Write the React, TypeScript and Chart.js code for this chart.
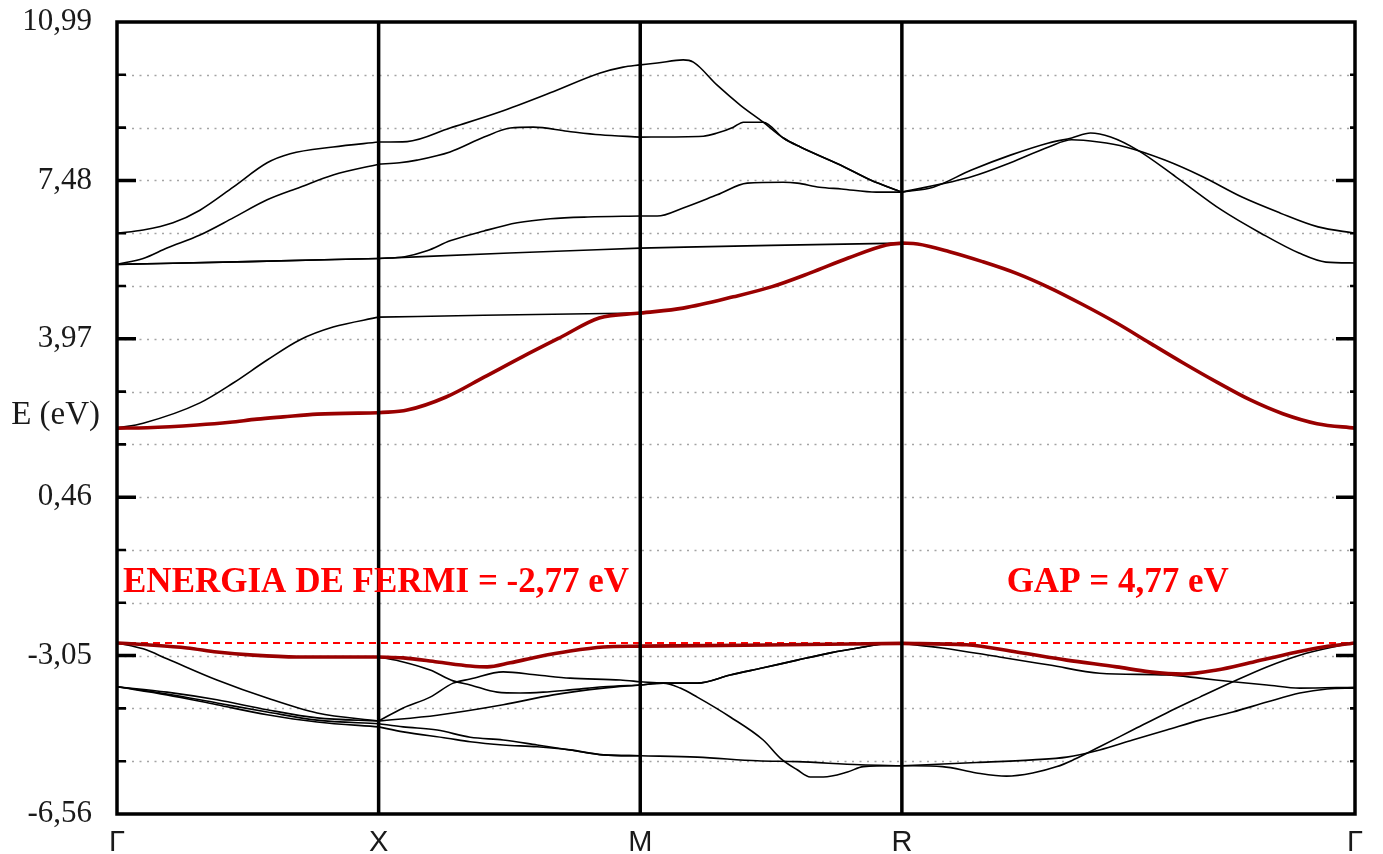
import React, { useEffect, useRef } from 'react';
import { Chart, registerables } from 'chart.js';

Chart.register(...registerables);

// ---- k-path (high-symmetry points) ----
const K_POINTS = [0, 1, 2, 3, 4.732];
const K_LABELS = ['Γ', 'X', 'M', 'R', 'Γ'];

// ---- energy axis ----
const E_MIN = -6.56;
const E_MAX = 10.99;
const E_GRID = [-6.56, -5.39, -4.22, -3.05, -1.88, -0.71, 0.46, 1.63, 2.8, 3.97, 5.14, 6.31, 7.48, 8.65, 9.82, 10.99];
const E_FERMI = -2.77;

// ---- texts ----
const Y_TITLE = 'E (eV)';
const FERMI_LABEL = 'ENERGIA DE FERMI = -2,77 eV';
const GAP_LABEL = 'GAP = 4,77 eV';
const Y_TITLE_E = 2.28;
const LABEL_E = -1.43;
const FERMI_LABEL_K = 0.023;
const GAP_LABEL_K = 3.825;

type Pt = [number, number];

// ---- conduction bands ----
const CB_RED: Pt[] = [
  [0, 1.99], [0.115, 2.0], [0.306, 2.06], [0.432, 2.12], [0.535, 2.19], [0.635, 2.24], [0.765, 2.3], [1, 2.33],
  [1.109, 2.39], [1.258, 2.68], [1.403, 3.12], [1.549, 3.57], [1.698, 4.01], [1.843, 4.43], [2, 4.54],
  [2.164, 4.65], [2.356, 4.9], [2.501, 5.12], [2.65, 5.43], [2.795, 5.76], [2.941, 6.05], [3, 6.09],
  [3.06, 6.07], [3.182, 5.9], [3.308, 5.68], [3.438, 5.42], [3.565, 5.1], [3.691, 4.73], [3.821, 4.32],
  [3.947, 3.88], [4.074, 3.44], [4.204, 3.01], [4.33, 2.62], [4.456, 2.31], [4.587, 2.09], [4.732, 1.99],
];
const CB_D: Pt[] = [
  [0, 1.99], [0.1, 2.1], [0.317, 2.55], [0.444, 2.99], [0.574, 3.5], [0.7, 3.95], [0.826, 4.23], [1, 4.45],
  [1.3, 4.48], [1.6, 4.51], [2, 4.54],
  [2.164, 4.65], [2.356, 4.9], [2.501, 5.12], [2.65, 5.43], [2.795, 5.76], [2.941, 6.05], [3, 6.09],
  [3.06, 6.07], [3.182, 5.9], [3.308, 5.68], [3.438, 5.42], [3.565, 5.1], [3.691, 4.73], [3.821, 4.32],
  [3.947, 3.88], [4.074, 3.44], [4.204, 3.01], [4.33, 2.62], [4.456, 2.31], [4.587, 2.09], [4.732, 1.99],
];
const CB_C: Pt[] = [
  [0, 5.62], [0.5, 5.68], [1, 5.75], [1.5, 5.87], [2, 5.98], [2.5, 6.04], [3, 6.09],
];
const CB_E: Pt[] = [
  [0, 5.62], [0.5, 5.68], [1, 5.75],
  [1.1, 5.79], [1.185, 5.92], [1.273, 6.14], [1.403, 6.36], [1.53, 6.54], [1.656, 6.63], [1.8, 6.67], [2, 6.69],
  [2.065, 6.69], [2.164, 6.87], [2.294, 7.16], [2.409, 7.42], [2.547, 7.44], [2.6, 7.42], [2.685, 7.33],
  [2.769, 7.29], [2.902, 7.22], [3, 7.22],
];
const CB_B: Pt[] = [
  [0, 5.62], [0.1, 5.75], [0.191, 5.98], [0.317, 6.27], [0.444, 6.65], [0.574, 7.05], [0.7, 7.33], [0.826, 7.6], [1, 7.84],
  [1.08, 7.87], [1.147, 7.93], [1.273, 8.11], [1.403, 8.44], [1.503, 8.64], [1.591, 8.66], [1.721, 8.57], [1.847, 8.49], [2, 8.44],
  [2.241, 8.46], [2.294, 8.53], [2.356, 8.66], [2.394, 8.77], [2.47, 8.77], [2.547, 8.42], [2.612, 8.22],
  [2.765, 7.82], [2.88, 7.49], [3, 7.22],
  [3.12, 7.33], [3.266, 7.71], [3.415, 8.04], [3.561, 8.31], [3.649, 8.42], [3.721, 8.53], [3.798, 8.44],
  [3.901, 8.15], [4.047, 7.56], [4.223, 6.82], [4.372, 6.31], [4.518, 5.87], [4.621, 5.67], [4.732, 5.65],
];
const CB_A: Pt[] = [
  [0, 6.31], [0.1, 6.38], [0.214, 6.54], [0.317, 6.82], [0.444, 7.33], [0.574, 7.87], [0.662, 8.07], [0.826, 8.22], [1, 8.33],
  [1.109, 8.34], [1.273, 8.64], [1.465, 9.0], [1.656, 9.42], [1.847, 9.86], [1.935, 9.99], [2, 10.04],
  [2.065, 10.08], [2.164, 10.15], [2.203, 10.1], [2.294, 9.59], [2.382, 9.15], [2.47, 8.77], [2.547, 8.42],
  [2.612, 8.22], [2.765, 7.82], [2.88, 7.49], [3, 7.22],
  [3.266, 7.56], [3.415, 7.87], [3.561, 8.22], [3.649, 8.38], [3.752, 8.33], [3.855, 8.22], [4.005, 7.93],
  [4.15, 7.56], [4.3, 7.11], [4.445, 6.76], [4.591, 6.45], [4.732, 6.31],
];

// ---- valence bands ----
const VB_RED: Pt[] = [
  [0, -2.77], [0.115, -2.81], [0.268, -2.88], [0.382, -2.97], [0.521, -3.04], [0.688, -3.08], [1, -3.08],
  [1.094, -3.1], [1.224, -3.19], [1.35, -3.28], [1.415, -3.3], [1.503, -3.21], [1.606, -3.08], [1.732, -2.95],
  [1.859, -2.86], [2, -2.84],
  [2.4, -2.82], [3, -2.78],
  [3.247, -2.81], [3.438, -2.97], [3.63, -3.15], [3.821, -3.3], [3.947, -3.41], [4.074, -3.46], [4.204, -3.37],
  [4.33, -3.21], [4.456, -3.04], [4.587, -2.88], [4.732, -2.77],
];
const VB_2: Pt[] = [
  [0, -2.77], [0.1, -2.9], [0.191, -3.12], [0.382, -3.59], [0.574, -3.99], [0.765, -4.32], [1, -4.5],
  [1.094, -4.21], [1.197, -3.97], [1.285, -3.66], [1.35, -3.57], [1.476, -3.41], [1.606, -3.48], [1.732, -3.55],
  [1.924, -3.59], [2, -3.63],
  [2.088, -3.66], [2.218, -3.66], [2.344, -3.48], [2.47, -3.32], [2.6, -3.15], [2.727, -2.99], [2.853, -2.86],
  [2.92, -2.8], [3, -2.78],
  [3.155, -2.88], [3.373, -3.08], [3.565, -3.26], [3.756, -3.44], [4.012, -3.48], [4.139, -3.55], [4.265, -3.63],
  [4.395, -3.7], [4.521, -3.77], [4.732, -3.75],
];
const VB_3: Pt[] = [
  [0, -2.77], [0.115, -2.81], [0.268, -2.88], [0.382, -2.97], [0.521, -3.04], [0.688, -3.08], [1, -3.08],
  [1.094, -3.19], [1.197, -3.37], [1.285, -3.61], [1.35, -3.7], [1.453, -3.86], [1.541, -3.88], [1.629, -3.86],
  [1.732, -3.81], [1.859, -3.74], [2, -3.7],
  [2.088, -3.66], [2.153, -3.77], [2.218, -3.97], [2.344, -4.41], [2.47, -4.92], [2.535, -5.32], [2.6, -5.58],
  [2.65, -5.74], [2.7, -5.74], [2.792, -5.63], [2.853, -5.51], [3, -5.49],
  [3.155, -5.51], [3.285, -5.65], [3.4, -5.72], [3.5, -5.65], [3.593, -5.51], [3.655, -5.36], [3.756, -5.07],
  [3.882, -4.7], [4.012, -4.32], [4.139, -3.97], [4.265, -3.63], [4.395, -3.3], [4.521, -3.04], [4.648, -2.86],
  [4.732, -2.77],
];
const VB_4: Pt[] = [
  [0, -3.74], [0.191, -3.86], [0.382, -4.03], [0.574, -4.25], [0.765, -4.43], [1, -4.5],
  [1.224, -4.37], [1.476, -4.14], [1.667, -3.92], [1.859, -3.77], [2, -3.7],
  [2.088, -3.66], [2.218, -3.66], [2.344, -3.48], [2.47, -3.32], [2.6, -3.15], [2.727, -2.99], [2.853, -2.86],
  [2.92, -2.8], [3, -2.78],
];
const VB_5: Pt[] = [
  [0, -3.74], [0.191, -3.9], [0.382, -4.1], [0.574, -4.3], [0.765, -4.48], [1, -4.56],
  [1.094, -4.63], [1.224, -4.7], [1.35, -4.86], [1.476, -4.92], [1.606, -5.03], [1.732, -5.14], [1.859, -5.25], [2, -5.27],
  [2.218, -5.3], [2.447, -5.38], [2.6, -5.4], [2.841, -5.47], [3, -5.49],
  [3.285, -5.42], [3.5, -5.36], [3.63, -5.3], [3.756, -5.14], [3.882, -4.92], [4.012, -4.7], [4.139, -4.48],
  [4.265, -4.3], [4.395, -4.08], [4.521, -3.88], [4.625, -3.79], [4.732, -3.77],
];
const VB_6: Pt[] = [
  [0, -3.74], [0.191, -3.92], [0.382, -4.14], [0.574, -4.36], [0.765, -4.52], [1, -4.63],
  [1.094, -4.74], [1.262, -4.88], [1.35, -4.96], [1.476, -5.03], [1.606, -5.07], [1.732, -5.14], [1.859, -5.25], [2, -5.27],
];

const BLACK_BANDS = [CB_D, CB_C, CB_E, CB_B, CB_A, VB_2, VB_3, VB_4, VB_5, VB_6];
const RED_BANDS = [CB_RED, VB_RED];

function splitSegments(band: Pt[]) {
  const segs: { x: number; y: number }[][] = [];
  for (let i = 0; i < K_POINTS.length - 1; i++) {
    const a = K_POINTS[i];
    const b = K_POINTS[i + 1];
    const pts = band
      .filter(([k]) => k >= a - 1e-6 && k <= b + 1e-6)
      .map(([x, y]) => ({ x, y }));
    if (pts.length > 1) segs.push(pts);
  }
  return segs;
}

function buildDatasets() {
  const ds: any[] = [];
  const base = {
    showLine: true,
    pointRadius: 0,
    pointHoverRadius: 0,
    tension: 0.4,
    cubicInterpolationMode: 'monotone',
    fill: false,
  };
  BLACK_BANDS.forEach((band) => {
    splitSegments(band).forEach((seg) => {
      ds.push({ ...base, data: seg, borderColor: '#000000', borderWidth: 1.6, order: 2 });
    });
  });
  ds.push({
    ...base,
    tension: 0,
    cubicInterpolationMode: 'default',
    data: [
      { x: K_POINTS[0], y: E_FERMI },
      { x: K_POINTS[K_POINTS.length - 1], y: E_FERMI },
    ],
    borderColor: '#ff0000',
    borderWidth: 2,
    borderDash: [7, 5],
    order: 1,
  });
  RED_BANDS.forEach((band) => {
    splitSegments(band).forEach((seg) => {
      ds.push({ ...base, data: seg, borderColor: '#990000', borderWidth: 3.6, order: 0 });
    });
  });
  return ds;
}

const bandFramePlugin = {
  id: 'bandFrame',
  beforeDatasetsDraw(chart: any) {
    const { ctx, chartArea: a, scales } = chart;
    const ys = scales.y;
    ctx.save();
    ctx.strokeStyle = '#a4a4a4';
    ctx.lineWidth = 1.5;
    ctx.setLineDash([2, 5.5]);
    E_GRID.forEach((v, i) => {
      if (i === 0 || i === E_GRID.length - 1) return;
      const y = Math.round(ys.getPixelForValue(v)) + 0.5;
      ctx.beginPath();
      ctx.moveTo(a.left, y);
      ctx.lineTo(a.right, y);
      ctx.stroke();
    });
    ctx.restore();
  },
  afterDatasetsDraw(chart: any) {
    const { ctx, chartArea: a, scales } = chart;
    const xs = scales.x;
    const ys = scales.y;
    ctx.save();
    ctx.setLineDash([]);
    ctx.strokeStyle = '#000000';
    ctx.lineWidth = 3.5;
    K_POINTS.forEach((k, i) => {
      if (i === 0 || i === K_POINTS.length - 1) return;
      const x = xs.getPixelForValue(k);
      ctx.beginPath();
      ctx.moveTo(x, a.top);
      ctx.lineTo(x, a.bottom);
      ctx.stroke();
    });
    ctx.lineWidth = 3.5;
    ctx.strokeRect(a.left, a.top, a.right - a.left, a.bottom - a.top);
    E_GRID.forEach((v, i) => {
      if (i === 0 || i === E_GRID.length - 1) return;
      const y = ys.getPixelForValue(v);
      const major = i % 3 === 0;
      ctx.lineWidth = major ? 3.5 : 2.6;
      const lenL = major ? 19 : 9;
      const lenR = major ? 19 : 5;
      ctx.beginPath();
      ctx.moveTo(a.left, y);
      ctx.lineTo(a.left + lenL, y);
      ctx.moveTo(a.right, y);
      ctx.lineTo(a.right - lenR, y);
      ctx.stroke();
    });
    ctx.fillStyle = '#1a1a1a';
    ctx.font = '33px "Liberation Serif", "Times New Roman", serif';
    ctx.textAlign = 'right';
    ctx.textBaseline = 'middle';
    ctx.fillText(Y_TITLE, a.left - 17, ys.getPixelForValue(Y_TITLE_E));
    ctx.fillStyle = '#ff0000';
    ctx.font = 'bold 35px "Liberation Serif", "Times New Roman", serif';
    ctx.textAlign = 'left';
    ctx.fillText(FERMI_LABEL, xs.getPixelForValue(FERMI_LABEL_K), ys.getPixelForValue(LABEL_E));
    ctx.textAlign = 'center';
    ctx.fillText(GAP_LABEL, xs.getPixelForValue(GAP_LABEL_K), ys.getPixelForValue(LABEL_E));
    ctx.restore();
  },
};

export default function App() {
  const canvasRef = useRef<HTMLCanvasElement | null>(null);

  useEffect(() => {
    if (!canvasRef.current) return;
    const chart = new Chart(canvasRef.current, {
      type: 'scatter',
      data: { datasets: buildDatasets() },
      options: {
        animation: false,
        responsive: false,
        devicePixelRatio: 1,
        events: [],
        layout: { padding: { left: 0, top: 22, right: 28, bottom: 0 } },
        plugins: {
          legend: { display: false },
          tooltip: { enabled: false },
        },
        scales: {
          x: {
            type: 'linear',
            min: K_POINTS[0],
            max: K_POINTS[K_POINTS.length - 1],
            grid: { display: false },
            border: { display: false },
            afterBuildTicks: (axis: any) => {
              axis.ticks = K_POINTS.map((v) => ({ value: v }));
            },
            afterFit: (axis: any) => {
              axis.height = 40;
              axis.paddingLeft = 0;
              axis.paddingRight = 0;
              axis.paddingTop = 0;
              axis.paddingBottom = 0;
            },
            ticks: {
              autoSkip: false,
              maxRotation: 0,
              padding: 4,
              color: '#1a1a1a',
              font: { family: '"Liberation Sans", Arial, sans-serif', size: 29 },
              callback: (_v: any, i: number) => K_LABELS[i],
            },
          },
          y: {
            type: 'linear',
            min: E_MIN,
            max: E_MAX,
            grid: { display: false },
            border: { display: false },
            afterBuildTicks: (axis: any) => {
              axis.ticks = E_GRID.map((v) => ({ value: v }));
            },
            afterFit: (axis: any) => {
              axis.width = 117;
              axis.paddingTop = 0;
              axis.paddingBottom = 0;
              axis.paddingLeft = 0;
              axis.paddingRight = 0;
            },
            ticks: {
              autoSkip: false,
              padding: 17,
              color: '#1a1a1a',
              font: { family: '"Liberation Serif", "Times New Roman", serif', size: 31 },
              callback: (v: any, i: number) => (i % 3 === 0 ? Number(v).toFixed(2).replace('.', ',') : ''),
            },
          },
        },
      },
      plugins: [bandFramePlugin],
    } as any);
    return () => chart.destroy();
  }, []);

  return (
    <div style={{ position: 'absolute', left: 0, top: 0, width: 1383, height: 854, background: '#ffffff' }}>
      <canvas ref={canvasRef} width={1383} height={854} />
    </div>
  );
}
